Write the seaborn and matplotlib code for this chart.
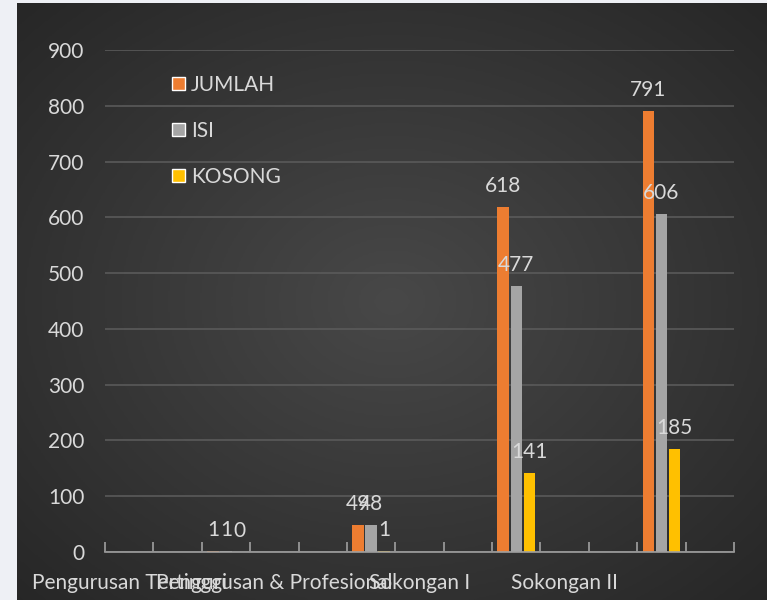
import numpy as np
import pandas as pd
import seaborn as sns
import matplotlib.pyplot as plt
from matplotlib.patches import Patch
from matplotlib.colors import LinearSegmentedColormap

kategori = ["Pengurusan Tertinggi", "Pengurusan & Profesional", "Sokongan I", "Sokongan II"]
jumlah = [1, 49, 618, 791]
isi = [1, 48, 477, 606]
kosong = [0, 1, 141, 185]
seri = ["JUMLAH", "ISI", "KOSONG"]
warna = ["#ED7D31", "#A5A5A5", "#FFC000"]

data = pd.DataFrame({"kategori": kategori, "JUMLAH": jumlah, "ISI": isi, "KOSONG": kosong})
data_plot = data.melt(id_vars="kategori", value_vars=seri, var_name="jenis", value_name="nilai")

sns.set_style("dark")
plt.rcParams["font.family"] = ["Lato", "DejaVu Sans"]
teks = "#d9d9d9"
fs = 15

fig = plt.figure(figsize=(7.67, 6), dpi=100, facecolor="#eef0f5")

# latar gelap dengan bayangan radial
bg = fig.add_axes([17 / 767, 0, 750 / 767, 597 / 600])
yy, xx = np.mgrid[-1:1:300j, -1:1:380j]
r = np.sqrt(xx ** 2 + yy ** 2)
cmap = LinearSegmentedColormap.from_list("bg", ["#484848", "#262626"])
bg.imshow(r, cmap=cmap, vmin=0, vmax=1.45, aspect="auto", interpolation="bilinear")
bg.axis("off")

ax = fig.add_axes([105 / 767, 48 / 600, 629 / 767, 502 / 600])
ax.patch.set_alpha(0)

sns.barplot(data=data_plot, x="kategori", y="nilai", hue="jenis", order=kategori,
            hue_order=seri, palette=warna, width=0.27, gap=0.12, saturation=1,
            linewidth=0, edgecolor="none", legend=False, ax=ax)

for c in ax.containers:
    ax.bar_label(c, fmt="%g", color=teks, fontsize=fs, padding=8)

# 13 slot seperti di Excel, kategori di slot 2, 5, 8, 11
ax.set_xlim(-2.5 / 3, 3.5)
ax.set_ylim(0, 900)
ax.set_yticks(range(0, 901, 100))
ax.set_xticks([i - 2 / 3 for i in range(4)])
ax.set_xticklabels(kategori)
ax.set_xticks([-2.5 / 3 + k / 3 for k in range(14)], minor=True)
ax.tick_params(axis="x", which="major", bottom=True, length=0, pad=15, labelsize=fs, labelcolor=teks)
ax.tick_params(axis="x", which="minor", bottom=True, direction="in", length=7, width=1.2,
               color="#a0a0a0")
ax.tick_params(axis="y", length=0, pad=15, labelsize=fs, labelcolor=teks)
ax.set_xlabel("")
ax.set_ylabel("")

ax.yaxis.grid(True, color="#5a5a5a", lw=1.2)
ax.xaxis.grid(False)
for s in ["left", "right", "top"]:
    ax.spines[s].set_visible(False)
ax.spines["bottom"].set_color("#a0a0a0")
ax.spines["bottom"].set_linewidth(1.2)

handles = [Patch(facecolor=w, label=s) for w, s in zip(warna, seri)]
leg = ax.legend(handles=handles, loc="upper left", bbox_to_anchor=(67 / 629, 477 / 502),
                frameon=False, fontsize=fs, labelspacing=1.25, handlelength=0.6,
                handleheight=0.6, handletextpad=0.3, borderpad=0, borderaxespad=0)
for t in leg.get_texts():
    t.set_color(teks)

fig.savefig("out.png", dpi=100, facecolor=fig.get_facecolor())
